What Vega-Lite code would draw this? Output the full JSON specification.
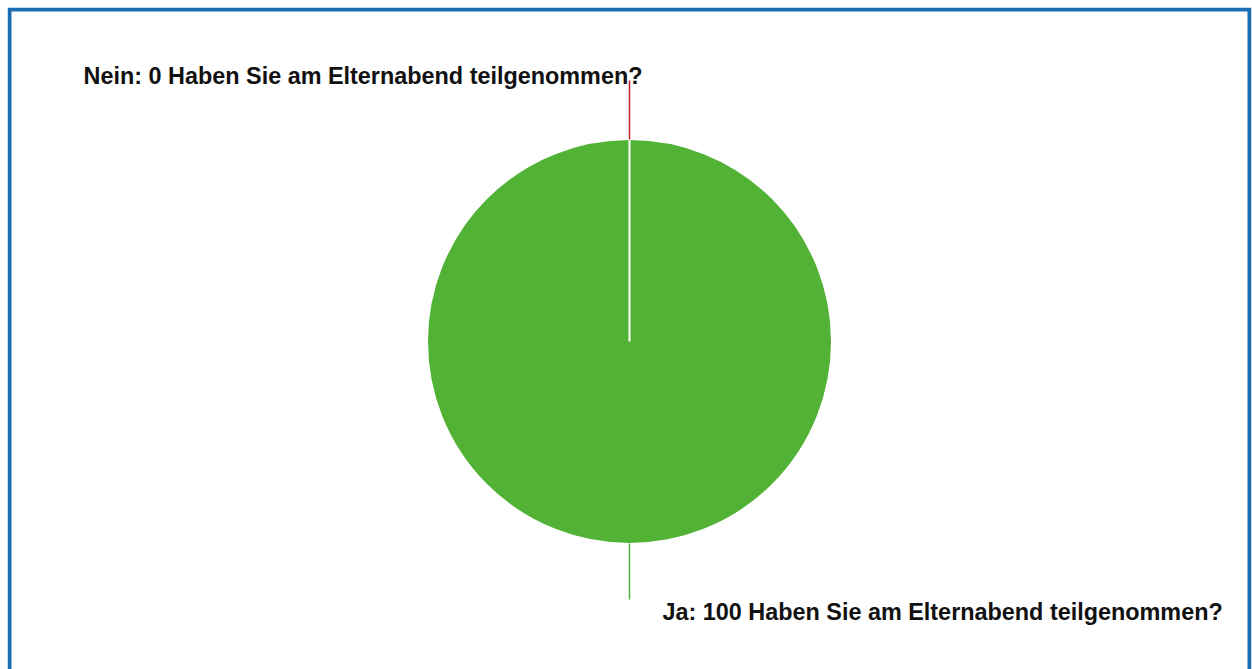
{
  "$schema": "https://vega.github.io/schema/vega-lite/v6.json",
  "width": 1252,
  "height": 669,
  "autosize": {"type": "fit", "contains": "padding"},
  "padding": {"left": 7.5, "top": 7.5, "right": 0.5, "bottom": -6.5},
  "background": "white",
  "config": {"view": {"stroke": null}},
  "data": {
    "values": [
      {"answer": "Ja", "value": 100, "label": "Ja: 100 Haben Sie am Elternabend teilgenommen?"},
      {"answer": "Nein", "value": 0, "label": "Nein: 0 Haben Sie am Elternabend teilgenommen?"}
    ]
  },
  "layer": [
    {
      "transform": [{"filter": "datum.answer === 'Ja'"}],
      "mark": {"type": "rect", "fill": null, "stroke": "#1b6db4", "strokeWidth": 4, "clip": true, "xOffset": 2, "x2Offset": -2, "yOffset": 2, "y2Offset": 12},
      "encoding": {
        "x": {"value": 0},
        "x2": {"value": "width"},
        "y": {"value": 0},
        "y2": {"value": "height"}
      }
    },
    {
      "mark": {"type": "arc", "radius": 202.5, "stroke": "white", "strokeWidth": 2},
      "encoding": {
        "theta": {"field": "value", "type": "quantitative", "stack": true},
        "color": {
          "field": "answer",
          "type": "nominal",
          "scale": {"domain": ["Ja", "Nein"], "range": ["#52b235", "#cc1f2f"]},
          "legend": null
        },
        "order": {"field": "answer", "sort": "ascending"}
      }
    },
    {
      "transform": [{"filter": "datum.answer === 'Nein'"}],
      "mark": {"type": "arc", "stroke": "#cc1f2f", "strokeWidth": 1.5, "fill": "#cc1f2f"},
      "encoding": {
        "theta": {"value": 0},
        "theta2": {"value": 0},
        "radius": {"value": 261},
        "radius2": {"value": 202}
      }
    },
    {
      "transform": [{"filter": "datum.answer === 'Ja'"}],
      "mark": {"type": "arc", "stroke": "#52b235", "strokeWidth": 1.5, "fill": "#52b235"},
      "encoding": {
        "theta": {"value": 3.14159265},
        "theta2": {"value": 3.14159265},
        "radius": {"value": 258},
        "radius2": {"value": 202}
      }
    },
    {
      "transform": [{"filter": "datum.answer === 'Nein'"}],
      "mark": {"type": "text", "align": "right", "baseline": "alphabetic", "dx": 13, "font": "Liberation Sans", "fontWeight": "bold", "fontSize": 23.4, "color": "#111111"},
      "encoding": {
        "theta": {"value": 0},
        "radius": {"value": 258},
        "text": {"field": "label"}
      }
    },
    {
      "transform": [{"filter": "datum.answer === 'Ja'"}],
      "mark": {"type": "text", "align": "left", "baseline": "alphabetic", "dx": 33, "font": "Liberation Sans", "fontWeight": "bold", "fontSize": 23.4, "color": "#111111"},
      "encoding": {
        "theta": {"value": 3.14159265},
        "radius": {"value": 278},
        "text": {"field": "label"}
      }
    }
  ]
}
